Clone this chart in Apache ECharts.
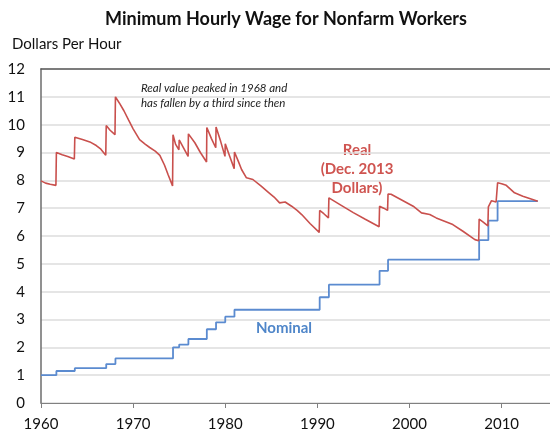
<!DOCTYPE html>
<html>
<head>
<meta charset="utf-8">
<script src="https://cdn.jsdelivr.net/npm/echarts@6/dist/echarts.min.js"></script>
<style>
  html, body { margin: 0; padding: 0; background: #fff; }
  #chart { width: 550px; height: 435px; }
</style>
</head>
<body>
<div id="chart"></div>
<script>
// Federal minimum wage: nominal rate changes (effective date as decimal year)
const nominalYears  = [1960, 1961.67, 1963.67, 1967.08, 1968.08, 1974.33, 1975.0, 1976.0, 1978.0, 1979.0, 1980.0, 1981.0, 1990.25, 1991.25, 1996.75, 1997.67, 2007.56, 2008.56, 2009.56, 2013.92];
const nominalValues = [1.00, 1.15, 1.25, 1.40, 1.60, 2.00, 2.10, 2.30, 2.65, 2.90, 3.10, 3.35, 3.80, 4.25, 4.75, 5.15, 5.85, 6.55, 7.25, 7.25];

// Real value in December 2013 dollars
const realYears = [
  1960.0, 1960.5, 1961.0, 1961.62, 1961.67, 1962.3, 1962.9, 1963.62, 1963.67, 1964.5,
  1965.3, 1966.0, 1966.5, 1967.03, 1967.08, 1967.5, 1968.03, 1968.08, 1968.5, 1969.0,
  1969.5, 1970.0, 1970.7, 1971.3, 1971.8, 1972.4, 1972.9, 1973.4, 1973.8, 1974.28,
  1974.33, 1974.6, 1974.97, 1975.0, 1975.5, 1975.97, 1976.0, 1976.7, 1977.3, 1977.97,
  1978.0, 1978.5, 1978.97, 1979.0, 1979.5, 1979.97, 1980.0, 1980.5, 1980.97, 1981.0,
  1981.4, 1981.77, 1982.3, 1983.0, 1983.9, 1984.65, 1985.3, 1985.9, 1986.5, 1987.2,
  1987.8, 1988.3, 1989.2, 1990.2, 1990.25, 1990.7, 1991.2, 1991.25, 1992.5, 1993.9,
  1995.2, 1996.7, 1996.75, 1997.2, 1997.62, 1997.67, 1998.0, 1998.9, 2000.4, 2001.3,
  2002.2, 2002.9, 2003.8, 2004.7, 2005.8, 2007.1, 2007.51, 2007.56, 2008.0, 2008.51,
  2008.56, 2008.9, 2009.4, 2009.51, 2009.56, 2010.0, 2010.5, 2011.4, 2012.3, 2013.2,
  2013.92
];
const realValues = [
  7.98, 7.90, 7.86, 7.82, 9.00, 8.92, 8.86, 8.77, 9.55, 9.47,
  9.38, 9.25, 9.12, 8.90, 9.97, 9.80, 9.64, 11.00, 10.78, 10.50,
  10.17, 9.85, 9.46, 9.30, 9.18, 9.05, 8.90, 8.55, 8.20, 7.80,
  9.64, 9.30, 9.10, 9.45, 9.15, 8.86, 9.67, 9.35, 9.00, 8.66,
  9.90, 9.50, 9.17, 9.92, 9.40, 8.86, 9.31, 8.85, 8.42, 9.02,
  8.70, 8.39, 8.09, 8.03, 7.79, 7.58, 7.40, 7.19, 7.22, 7.07,
  6.92, 6.77, 6.45, 6.13, 6.92, 6.80, 6.65, 7.37, 7.12, 6.84,
  6.60, 6.33, 7.07, 7.00, 6.92, 7.51, 7.50, 7.34, 7.07, 6.83,
  6.77, 6.65, 6.53, 6.41, 6.17, 5.87, 5.83, 6.61, 6.50, 6.36,
  7.05, 7.27, 7.22, 7.20, 7.91, 7.88, 7.82, 7.55, 7.43, 7.33,
  7.25
];

const yearTicks = [1960, 1970, 1980, 1990, 2000, 2010];
const valueTicks = [0, 1, 2, 3, 4, 5, 6, 7, 8, 9, 10, 11, 12];

const zip = (xs, ys) => xs.map((x, i) => [x, ys[i]]);

const FONT = 'Lato, "Open Sans", sans-serif';
const chart = echarts.init(document.getElementById('chart'), null, { renderer: 'canvas' });

chart.setOption({
  backgroundColor: '#ffffff',
  animation: false,
  title: {
    text: 'Minimum Hourly Wage for Nonfarm Workers',
    left: 281, top: 5, textAlign: 'center',
    textStyle: { fontFamily: FONT, fontSize: 18, fontWeight: 'bold', color: '#111' }
  },
  grid: { left: 41, right: 0, top: 69, bottom: 32 },
  xAxis: [{
    type: 'value', min: 1960, max: 2015.25,
    axisLine: { show: true, lineStyle: { color: '#808080', width: 1 } },
    axisTick: { show: true, length: 5, customValues: yearTicks, lineStyle: { color: '#808080' } },
    axisLabel: {
      customValues: yearTicks, margin: 14, fontFamily: FONT, fontSize: 15, color: '#111',
      formatter: (v) => String(v)
    },
    splitLine: { show: false }
  }, {
    type: 'value', position: 'top', min: 1960, max: 2015.25,
    axisLine: { show: true, onZero: false, lineStyle: { color: '#595959', width: 1.5 } },
    axisTick: { show: false }, axisLabel: { show: false }, splitLine: { show: false }
  }],
  yAxis: {
    type: 'value', min: 0, max: 12, interval: 1,
    name: 'Dollars Per Hour', nameLocation: 'end', nameGap: 17,
    nameTextStyle: { fontFamily: FONT, fontSize: 15, color: '#111', align: 'left', padding: [0, 0, 0, -29] },
    axisLine: { show: true, lineStyle: { color: '#6d6d6d', width: 1.5 } },
    axisTick: { show: false },
    axisLabel: { customValues: valueTicks, margin: 16, fontFamily: FONT, fontSize: 15, color: '#111' },
    splitLine: { show: true, lineStyle: { color: '#dcdcdc', width: 1.5 } }
  },
  series: [{
    name: 'Nominal', type: 'line', step: 'end', showSymbol: false,
    data: zip(nominalYears, nominalValues),
    lineStyle: { color: '#5b8bd0', width: 1.8 }, z: 3
  }, {
    name: 'Real', type: 'line', showSymbol: false,
    data: zip(realYears, realValues),
    lineStyle: { color: '#c9504d', width: 1.6 }, z: 4
  }],
  graphic: [{
    type: 'text', left: 141, top: 81,
    style: {
      text: 'Real value peaked in 1968 and\nhas fallen by a third since then',
      font: 'italic 11.5px ' + FONT, fill: '#222', lineHeight: 15
    }
  }, {
    type: 'text', x: 357, y: 141,
    style: {
      text: 'Real\n(Dec. 2013\nDollars)', align: 'center',
      font: 'bold 15px ' + FONT, fill: '#cf5450', lineHeight: 19
    }
  }, {
    type: 'text', x: 284, y: 321,
    style: { text: 'Nominal', align: 'center', font: 'bold 15px ' + FONT, fill: '#4f86c9' }
  }]
});
</script>
</body>
</html>
